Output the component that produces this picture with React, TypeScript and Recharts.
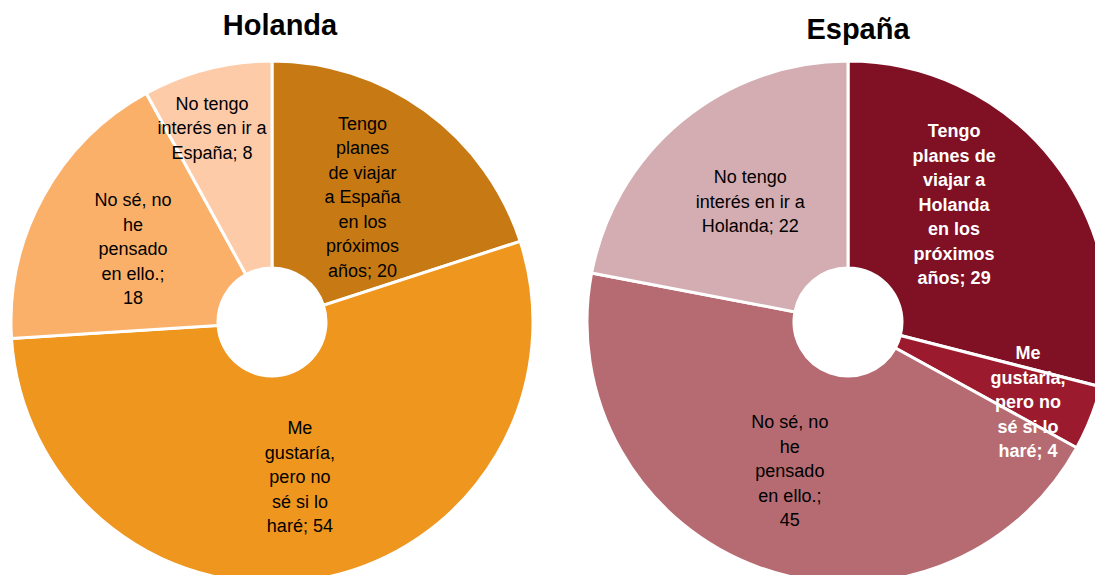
import { PieChart, Pie, Cell } from "recharts";

const categories = [
  "Tengo planes de viajar",
  "Me gustaría, pero no sé si lo haré",
  "No sé, no he pensado en ello.",
  "No tengo interés",
];

const holandaValues = [20, 54, 18, 8];
const espanaValues = [29, 4, 45, 22];

// wrapped label text, {v} is replaced by the value
const holandaLabels = [
  "Tengo\nplanes\nde viajar\na España\nen los\npróximos\naños; {v}",
  "Me\ngustaría,\npero no\nsé si lo\nharé; {v}",
  "No sé, no\nhe\npensado\nen ello.;\n{v}",
  "No tengo\ninterés en ir a\nEspaña; {v}",
];
const espanaLabels = [
  "Tengo\nplanes de\nviajar a\nHolanda\nen los\npróximos\naños; {v}",
  "Me\ngustaría,\npero no\nsé si lo\nharé; {v}",
  "No sé, no\nhe\npensado\nen ello.;\n{v}",
  "No tengo\ninterés en ir a\nHolanda; {v}",
];

const holandaColors = ["#C77A14", "#EF961E", "#FBB06A", "#FECBA9"];
const espanaColors = ["#801024", "#9C1A2D", "#B56B71", "#D3ADB1"];

// label placement: [radius, angle shift in degrees]
const holandaPlace = [[154, 0], [157.5, -0.6], [157, 1.1], [203, 2.8]];
const espanaPlace = [[158, 10], [197, -2.4], [160, -1.5], [155, -0.5]];

const RAD = Math.PI / 180;
const FONT = "'Liberation Sans', Arial, sans-serif";

const build = (values: number[], labels: string[]) =>
  values.map((v, i) => ({ name: categories[i], value: v, label: labels[i].replace("{v}", String(v)) }));

const holandaData = build(holandaValues, holandaLabels);
const espanaData = build(espanaValues, espanaLabels);

function makeLabel(place: number[][], boldWhite: boolean[]) {
  return (props: any) => {
    const { cx, cy, midAngle, index, payload } = props;
    const [r, shift] = place[index];
    const a = (midAngle + shift) * RAD;
    const x = cx + r * Math.cos(-a);
    const y = cy + r * Math.sin(-a);
    const lines: string[] = (payload.label ?? props.label ?? "").split("\n");
    const lh = 24.5;
    const y0 = y - ((lines.length - 1) * lh) / 2;
    const white = boldWhite[index];
    return (
      <text
        x={x}
        y={y0}
        textAnchor="middle"
        dominantBaseline="central"
        fontFamily={FONT}
        fontSize={18}
        fontWeight={white ? "bold" : "normal"}
        fill={white ? "#FFFFFF" : "#000000"}
      >
        {lines.map((l, i) => (
          <tspan key={i} x={x} y={y0 + i * lh}>
            {l}
          </tspan>
        ))}
      </text>
    );
  };
}

const titleStyle = {
  position: "absolute" as const,
  width: 240,
  textAlign: "center" as const,
  fontFamily: FONT,
  fontWeight: "bold",
  fontSize: 29,
  lineHeight: "33px",
};

export default function App() {
  return (
    <div style={{ position: "absolute", left: 0, top: 0, width: 1095, height: 575, background: "#fff", overflow: "hidden" }}>
      <div style={{ ...titleStyle, left: 160, top: 9 }}>Holanda</div>
      <div style={{ ...titleStyle, left: 738, top: 13 }}>España</div>
      <PieChart
        width={1095}
        height={575}
        margin={{ top: 0, right: 0, bottom: 0, left: 0 }}
        style={{ position: "absolute", left: 0, top: 0 }}
      >
        <Pie
          data={holandaData}
          dataKey="value"
          nameKey="name"
          cx={272}
          cy={322}
          innerRadius={54}
          outerRadius={261}
          startAngle={90}
          endAngle={-270}
          stroke="#FFFFFF"
          strokeWidth={3}
          labelLine={false}
          label={makeLabel(holandaPlace, [false, false, false, false])}
          isAnimationActive={false}
        >
          {holandaData.map((d, i) => (
            <Cell key={d.name} fill={holandaColors[i]} />
          ))}
        </Pie>
        <Pie
          data={espanaData}
          dataKey="value"
          nameKey="name"
          cx={848}
          cy={322}
          innerRadius={54}
          outerRadius={261}
          startAngle={90}
          endAngle={-270}
          stroke="#FFFFFF"
          strokeWidth={3}
          labelLine={false}
          label={makeLabel(espanaPlace, [true, true, false, false])}
          isAnimationActive={false}
        >
          {espanaData.map((d, i) => (
            <Cell key={d.name} fill={espanaColors[i]} />
          ))}
        </Pie>
      </PieChart>
    </div>
  );
}
